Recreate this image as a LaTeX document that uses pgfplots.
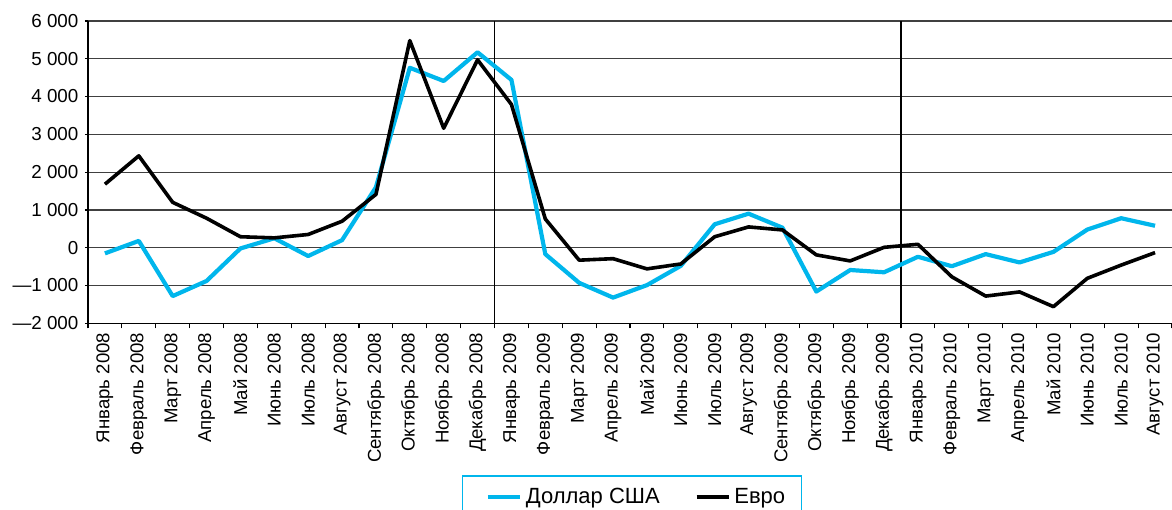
\documentclass[border=0pt]{standalone}
\usepackage{pgfplots}
\pgfplotsset{compat=1.18}
\usepackage{fontspec}
\setmainfont{Liberation Sans}
\definecolor{usd}{RGB}{0,182,236}
\pgfplotstableread{
x usd eur
0 -150 1680
1 180 2430
2 -1280 1200
3 -880 780
4 -20 290
5 250 260
6 -220 350
7 200 700
8 1600 1410
9 4760 5480
10 4410 3160
11 5170 4970
12 4440 3790
13 -170 760
14 -930 -330
15 -1320 -290
16 -990 -560
17 -480 -430
18 620 290
19 900 550
20 530 470
21 -1160 -190
22 -590 -350
23 -650 10
24 -240 90
25 -490 -770
26 -170 -1280
27 -390 -1170
28 -110 -1560
29 480 -810
30 780 -460
31 580 -130
}\datatable
\begin{document}
\fontsize{9.3}{11}\selectfont
\begin{tikzpicture}
\begin{axis}[
 at={(0,0)}, anchor=south west,
 scale only axis, width=542pt, height=151.2pt,
 xmin=-0.5, xmax=31.5, ymin=-2000, ymax=6000,
 axis lines*=left, axis line style={-, black, line width=0.6pt},
 ytick={-2000,-1000,...,6000},
 yticklabels={—2 000,—1 000,0,1 000,2 000,3 000,4 000,5 000,6 000},
 ymajorgrids, major grid style={black!75, line width=0.6pt},
 xtick={0,...,31},
 xticklabels={Январь 2008,Февраль 2008,Март 2008,Апрель 2008,Май 2008,Июнь 2008,Июль 2008,Август 2008,Сентябрь 2008,Октябрь 2008,Ноябрь 2008,Декабрь 2008,Январь 2009,Февраль 2009,Март 2009,Апрель 2009,Май 2009,Июнь 2009,Июль 2009,Август 2009,Сентябрь 2009,Октябрь 2009,Ноябрь 2009,Декабрь 2009,Январь 2010,Февраль 2010,Март 2010,Апрель 2010,Май 2010,Июнь 2010,Июль 2010,Август 2010},
 minor xtick={-0.5,0.5,...,31.5},
 tick align=outside,
 major tick length=1.5pt,
 minor tick length=2.5pt,
 major x tick style={draw=none},
 minor x tick style={black, line width=0.6pt},
 major y tick style={black, line width=0.6pt},
 xticklabel style={rotate=90, anchor=east, font=\fontsize{9.3}{11}\selectfont},
 yticklabel style={font=\fontsize{9.4}{11}\selectfont},
 legend columns=2,
 legend style={at={(0.5018,-0.503)}, anchor=north, draw=usd, line width=0.6pt,
   font=\fontsize{11}{12}\selectfont, inner xsep=6pt, inner ysep=4pt,
   /tikz/every odd column/.append style={column sep=0pt},
   /tikz/every even column/.append style={column sep=10pt}},
 legend image code/.code={\draw[#1] (0pt,0pt) -- (16pt,0pt); \path (-5.5pt,0pt);},
]
\draw[black, line width=0.6pt] (axis cs:11.5,-2000) -- (axis cs:11.5,6000);
\draw[black, line width=0.6pt] (axis cs:23.5,-2000) -- (axis cs:23.5,6000);
\addplot[usd, line width=2.1pt, line join=round] table[x=x, y=usd] {\datatable};
\addlegendentry{Доллар США}
\addplot[black, line width=1.8pt, line join=round] table[x=x, y=eur] {\datatable};
\addlegendentry{Евро}
\end{axis}
\pgfresetboundingbox
\useasboundingbox (-44pt,-92.85pt) rectangle (542pt,161.65pt);
\end{tikzpicture}
\end{document}
